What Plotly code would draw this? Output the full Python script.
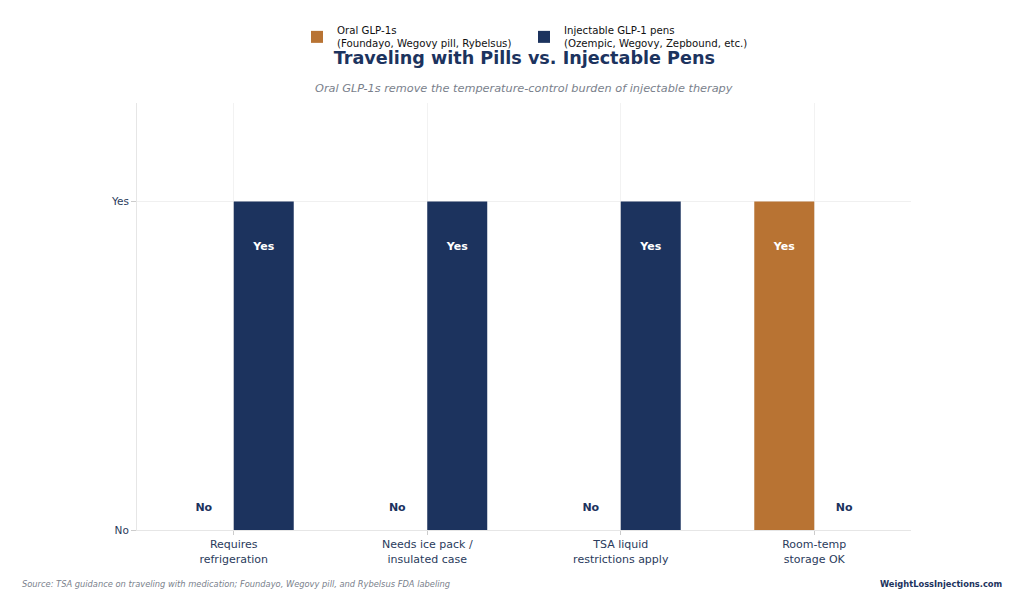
import plotly.graph_objects as go

categories = ["Requires<br>refrigeration", "Needs ice pack /<br>insulated case",
              "TSA liquid<br>restrictions apply", "Room-temp<br>storage OK"]
oral_values = [0, 0, 0, 1]
injectable_values = [1, 1, 1, 0]
series_names = ["Oral GLP-1s<br>(Foundayo, Wegovy pill, Rybelsus)",
                "Injectable GLP-1 pens<br>(Ozempic, Wegovy, Zepbound, etc.)"]
tick_labels = ["No", "Yes"]

ORANGE = "#b87333"
NAVY = "#1c335e"
FONT = "DejaVu Sans"

def label_y(v):
    return 0.86 if v == 1 else 0.065

def label_text(v):
    return "Yes" if v == 1 else "No"

def label_color(v):
    return "white" if v == 1 else NAVY

fig = go.Figure()
for name, vals, col, grp in [(series_names[0], oral_values, ORANGE, "oral"),
                             (series_names[1], injectable_values, NAVY, "inj")]:
    fig.add_trace(go.Bar(x=categories, y=vals, name=name, marker_color=col,
                         marker_line_width=0, offsetgroup=grp))
for vals, grp in [(oral_values, "oral"), (injectable_values, "inj")]:
    fig.add_trace(go.Scatter(x=categories, y=[label_y(v) for v in vals],
                             text=[label_text(v) for v in vals], mode="text",
                             textfont=dict(family=FONT, size=11,
                                           color=[label_color(v) for v in vals],
                                           weight="bold"),
                             offsetgroup=grp, showlegend=False, hoverinfo="skip"))

fig.update_layout(
    width=1024, height=611,
    barmode="group", scattermode="group", bargap=0.38, scattergap=0.38,
    plot_bgcolor="white", paper_bgcolor="white",
    margin=dict(l=137, r=113, t=103, b=81),
    font=dict(family=FONT, color=NAVY, size=11),
    title=dict(text="<b>Traveling with Pills vs. Injectable Pens</b>",
               x=0.512, xanchor="center", y=0.906, yanchor="middle",
               font=dict(size=17.6, color=NAVY, family=FONT)),
    legend=dict(orientation="h", x=0.5, xanchor="center", y=0.972, yanchor="top",
                yref="container", font=dict(size=10.2, color="#111111"),
                bgcolor="rgba(0,0,0,0)", entrywidth=182, tracegroupgap=0),
    xaxis=dict(range=[-0.5, 3.5], showgrid=True, gridcolor="#f2f2f2",
               showline=True, linecolor="#e6e6e6", ticks="outside",
               tickcolor="#cccccc", ticklen=4, tickfont=dict(size=11, color="#2a3b5c")),
    yaxis=dict(range=[0, 1.3], tickvals=[0, 1], ticktext=tick_labels,
               showgrid=True, gridcolor="#f0f0f0", zeroline=False,
               showline=True, linecolor="#e6e6e6", ticks="outside",
               tickcolor="#cccccc", ticklen=5, tickfont=dict(size=10.5, color="#2a3b5c")),
    annotations=[
        dict(text="<i>Oral GLP-1s remove the temperature-control burden of injectable therapy</i>",
             xref="paper", yref="paper", x=0.5, y=1.0, yshift=15, showarrow=False,
             xanchor="center", yanchor="middle",
             font=dict(size=11.3, color="#7a7f8c", family=FONT)),
        dict(text="<i>Source: TSA guidance on traveling with medication; Foundayo, Wegovy pill, and Rybelsus FDA labeling</i>",
             xref="paper", yref="paper", x=-0.151, y=0, yshift=-54, showarrow=False,
             xanchor="left", yanchor="middle", font=dict(size=8.3, color="#7a7f8c", family=FONT)),
        dict(text="<b>WeightLossInjections.com</b>",
             xref="paper", yref="paper", x=1.12, y=0, yshift=-54, showarrow=False,
             xanchor="right", yanchor="middle", font=dict(size=8.3, color=NAVY, family=FONT)),
    ],
)

fig.write_html("out.html")
